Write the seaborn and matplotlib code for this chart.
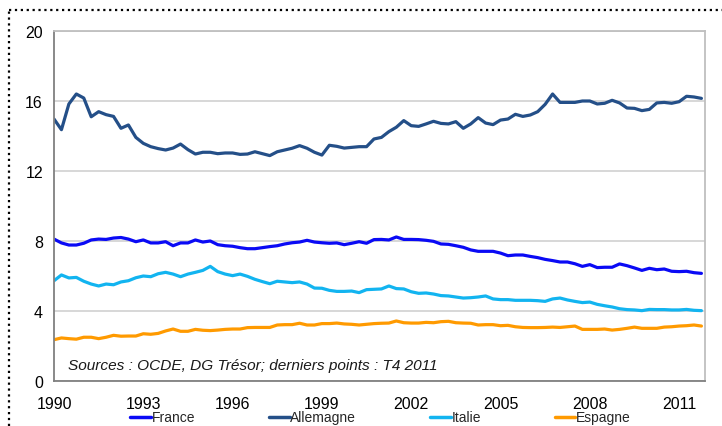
import matplotlib

matplotlib.use("Agg")
import matplotlib.pyplot as plt
import numpy as np
import pandas as pd
import seaborn as sns
from matplotlib.lines import Line2D

# Données trimestrielles 1990T1 - 2011T4
debut = 1990
pays = ["France", "Allemagne", "Italie", "Espagne"]
couleurs = ["#0A0AF5", "#244F88", "#12B4F0", "#FF9A00"]

france = [
    8.11, 7.89, 7.77, 7.77, 7.87, 8.06, 8.11, 8.09, 8.17, 8.20, 8.11, 7.96,
    8.06, 7.89, 7.89, 7.96, 7.73, 7.89, 7.89, 8.06, 7.94, 8.00, 7.79, 7.73,
    7.70, 7.62, 7.56, 7.56, 7.62, 7.68, 7.73, 7.83, 7.90, 7.94, 8.04, 7.94,
    7.90, 7.87, 7.89, 7.79, 7.87, 7.96, 7.87, 8.08, 8.09, 8.06, 8.23, 8.09,
    8.09, 8.08, 8.04, 7.98, 7.83, 7.81, 7.73, 7.64, 7.49, 7.41, 7.41, 7.41,
    7.31, 7.16, 7.20, 7.20, 7.12, 7.05, 6.95, 6.88, 6.80, 6.80, 6.70, 6.55,
    6.65, 6.48, 6.50, 6.50, 6.69, 6.59, 6.46, 6.32, 6.44, 6.36, 6.40, 6.27,
    6.25, 6.27, 6.19, 6.15,
]
allemagne = [
    14.97, 14.36, 15.83, 16.40, 16.17, 15.10, 15.39, 15.22, 15.12, 14.44, 14.63, 13.92,
    13.58, 13.39, 13.28, 13.20, 13.31, 13.54, 13.22, 12.97, 13.07, 13.07, 12.99, 13.03,
    13.03, 12.95, 12.97, 13.10, 12.99, 12.88, 13.10, 13.20, 13.30, 13.45, 13.30, 13.07,
    12.91, 13.47, 13.41, 13.31, 13.35, 13.39, 13.39, 13.83, 13.92, 14.25, 14.50, 14.88,
    14.59, 14.55, 14.69, 14.84, 14.72, 14.69, 14.82, 14.44, 14.69, 15.05, 14.74, 14.65,
    14.91, 14.97, 15.24, 15.12, 15.20, 15.39, 15.81, 16.40, 15.92, 15.92, 15.92, 16.00,
    16.00, 15.83, 15.87, 16.04, 15.89, 15.60, 15.58, 15.45, 15.52, 15.89, 15.92, 15.87,
    15.96, 16.27, 16.23, 16.15,
]
italie = [
    5.73, 6.06, 5.89, 5.92, 5.70, 5.54, 5.43, 5.54, 5.50, 5.66, 5.73, 5.90,
    6.00, 5.96, 6.13, 6.21, 6.11, 5.96, 6.11, 6.21, 6.32, 6.55, 6.25, 6.11,
    6.02, 6.11, 5.98, 5.81, 5.68, 5.56, 5.70, 5.66, 5.62, 5.66, 5.54, 5.31,
    5.30, 5.18, 5.12, 5.12, 5.14, 5.05, 5.22, 5.24, 5.26, 5.43, 5.28, 5.26,
    5.10, 5.01, 5.03, 4.97, 4.88, 4.86, 4.80, 4.74, 4.76, 4.80, 4.86, 4.69,
    4.65, 4.65, 4.61, 4.61, 4.61, 4.59, 4.55, 4.69, 4.74, 4.63, 4.55, 4.48,
    4.51, 4.38, 4.30, 4.23, 4.13, 4.08, 4.06, 4.02, 4.09, 4.08, 4.08, 4.06,
    4.06, 4.09, 4.04, 4.02,
]
espagne = [
    2.36, 2.46, 2.42, 2.39, 2.50, 2.50, 2.42, 2.50, 2.61, 2.56, 2.57, 2.57,
    2.70, 2.67, 2.72, 2.86, 2.97, 2.84, 2.84, 2.95, 2.90, 2.88, 2.91, 2.95,
    2.97, 2.97, 3.05, 3.06, 3.06, 3.06, 3.20, 3.22, 3.22, 3.30, 3.20, 3.20,
    3.28, 3.28, 3.31, 3.26, 3.24, 3.20, 3.24, 3.28, 3.30, 3.31, 3.43, 3.33,
    3.31, 3.31, 3.35, 3.33, 3.39, 3.41, 3.33, 3.31, 3.30, 3.20, 3.22, 3.22,
    3.16, 3.18, 3.10, 3.06, 3.05, 3.05, 3.06, 3.08, 3.06, 3.10, 3.14, 2.95,
    2.95, 2.95, 2.97, 2.91, 2.95, 3.01, 3.08, 3.01, 3.01, 3.01, 3.08, 3.10,
    3.14, 3.16, 3.20, 3.14,
]

annees_ticks = list(range(1990, 2012, 3))
y_ticks = [0, 4, 8, 12, 16, 20]
source = "Sources : OCDE, DG Trésor; derniers points : T4 2011"

trimestres = debut + np.arange(len(france)) / 4
df = pd.concat(
    [
        pd.DataFrame({"date": trimestres, "valeur": serie, "pays": nom})
        for nom, serie in zip(pays, [france, allemagne, italie, espagne])
    ],
    ignore_index=True,
)

sns.set_theme(style="white")
plt.rcParams["font.family"] = ["Liberation Sans", "DejaVu Sans"]

fig = plt.figure(figsize=(7.22, 4.27), dpi=100)
ax = fig.add_axes([54 / 722, 1 - 382 / 427, 651 / 722, 350 / 427])

sns.lineplot(
    data=df, x="date", y="valeur", hue="pays", hue_order=pays,
    palette=couleurs, linewidth=2.3, ax=ax, legend=False,
)

ax.set_xlim(1990, 2011.87)
ax.set_ylim(0, 20)
ax.set_xticks(annees_ticks)
ax.set_xticklabels([str(a) for a in annees_ticks], fontsize=11.5)
ax.set_yticks(y_ticks)
ax.set_yticklabels([str(v) for v in y_ticks], fontsize=11.5)
ax.set_xlabel("")
ax.set_ylabel("")
ax.yaxis.grid(True, color="#D4D4D4", linewidth=1.3)
ax.set_axisbelow(True)
ax.tick_params(axis="both", length=5, width=1, color="#808080", colors="black", pad=3)
ax.tick_params(axis="x", pad=6, labelcolor="black")

for cote in ["top", "right"]:
    ax.spines[cote].set_color("#BFBFBF")
    ax.spines[cote].set_linewidth(1.3)
for cote in ["left", "bottom"]:
    ax.spines[cote].set_color("#808080")
    ax.spines[cote].set_linewidth(1.3)

ax.text(0.022, 0.046, source, transform=ax.transAxes, fontsize=11.1,
        style="italic", color="#1A1A1A", va="center", ha="left")

handles = [Line2D([0], [0], color=c, linewidth=2.5) for c in couleurs]
fig.legend(
    handles, pays, loc="center", bbox_to_anchor=(0.527, 0.020), ncol=4,
    frameon=False, fontsize=10, handlelength=1.5, handletextpad=0.05,
    columnspacing=5.3, borderpad=0.1,
)

# cadre pointillé de la diapositive
fig.add_artist(Line2D([9 / 722, 1], [1 - 11 / 427] * 2, transform=fig.transFigure,
                      color="black", linestyle=":", linewidth=1.6))
fig.add_artist(Line2D([9 / 722] * 2, [0, 1 - 11 / 427], transform=fig.transFigure,
                      color="black", linestyle=":", linewidth=1.6))

fig.savefig("out.png", dpi=100)
plt.close(fig)
